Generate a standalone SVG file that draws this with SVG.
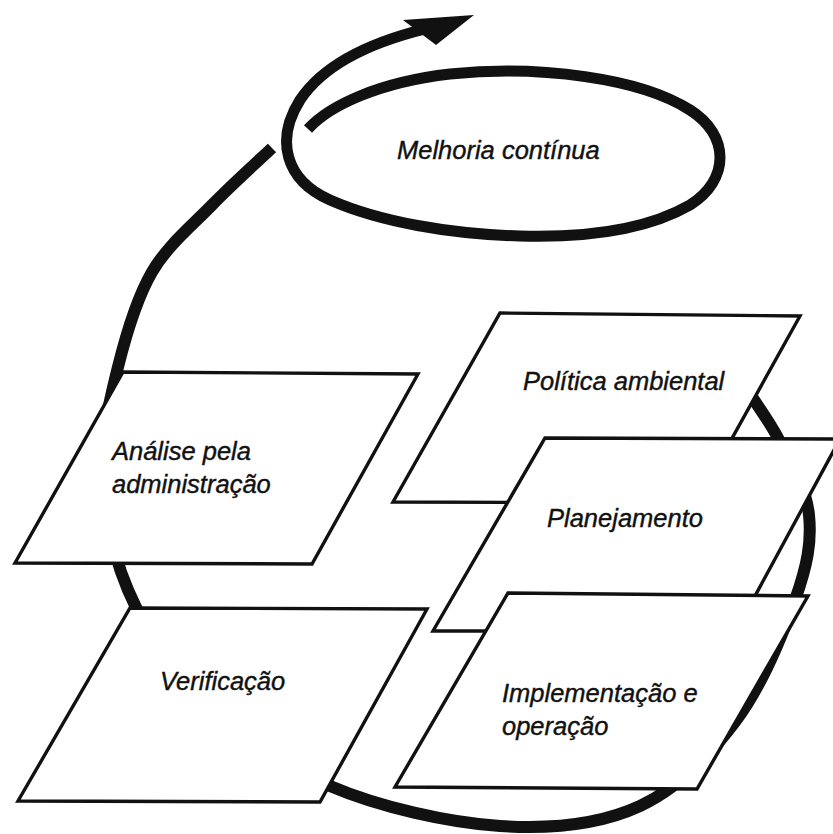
<svg xmlns="http://www.w3.org/2000/svg" width="833" height="834" viewBox="0 0 833 834">
  <style>
    .box { fill: #ffffff; stroke: #111111; stroke-width: 3.4; stroke-linejoin: miter; }
    .lbl { font-family: "Liberation Sans", Arial, Helvetica, sans-serif; font-style: italic; font-size: 25.5px; fill: #111111; stroke: #111111; stroke-width: 0.4; }
    .arc { fill: none; stroke: #111111; stroke-width: 12; stroke-linecap: butt; stroke-linejoin: round; }
    .loop { fill: none; stroke: #111111; stroke-width: 11; stroke-linecap: butt; stroke-linejoin: round; }
  </style>
  <rect x="0" y="0" width="833" height="834" fill="#ffffff"/>

  <g id="connectors">
    <path class="arc" d="M 728 362 C 736 375 764.5 412.5 778 438 C 791.5 463.5 806.2 488 809 515 C 811.8 542 807.3 565.5 795 600 C 782.7 634.5 760.8 687.7 735 722 C 709.2 756.3 679.2 787.8 640 806 C 600.8 824.2 551.7 829.3 500 826 C 448.3 822.7 379.2 807 330 786 C 280.8 765 238.7 737.7 205 705 C 171.3 672.3 145 629.2 128 590 C 111 550.8 104.7 507.2 103 470 C 101.3 432.8 109.8 400 118 367 C 126.2 334 136.3 299 152 272 C 167.7 245 192 225.7 212 205 C 232 184.3 262 157.5 272 148"/>
    <path class="loop" d="M 308 129 C 330 105 380 82 450 74 C 540 65 640 78 690 110 C 730 135 730 180 690 205 C 650 228 590 238 520 236 C 450 234 380 222 330 200 C 285 180 275 140 300 100 C 320 70 360 45 425 29"/>
    <polygon points="474,15 403,20 436,45" fill="#111111"/>
  </g>

  <g id="melhoria">
    <text class="lbl" x="397" y="159">Melhoria contínua</text>
  </g>

  <g id="analise">
    <polygon class="box" points="123,372 418,374 312,564 15,563"/>
    <text class="lbl" x="112" y="460">Análise pela</text>
    <text class="lbl" x="112" y="493">administração</text>
  </g>

  <g id="verificacao">
    <polygon class="box" points="130,608 427,609 320,802 18,801"/>
    <text class="lbl" x="160" y="690">Verificação</text>
  </g>

  <g id="politica">
    <polygon class="box" points="500,313 800,316 696,503 393,502"/>
    <text class="lbl" x="523" y="390">Política ambiental</text>
  </g>

  <g id="planejamento">
    <polygon class="box" points="545,438 840,439 736,631 433,631"/>
    <text class="lbl" x="547" y="527">Planejamento</text>
  </g>

  <g id="implementacao">
    <polygon class="box" points="508,593 808,596 697,789 395,787"/>
    <text class="lbl" x="502" y="702">Implementação e</text>
    <text class="lbl" x="502" y="735">operação</text>
  </g>
</svg>
